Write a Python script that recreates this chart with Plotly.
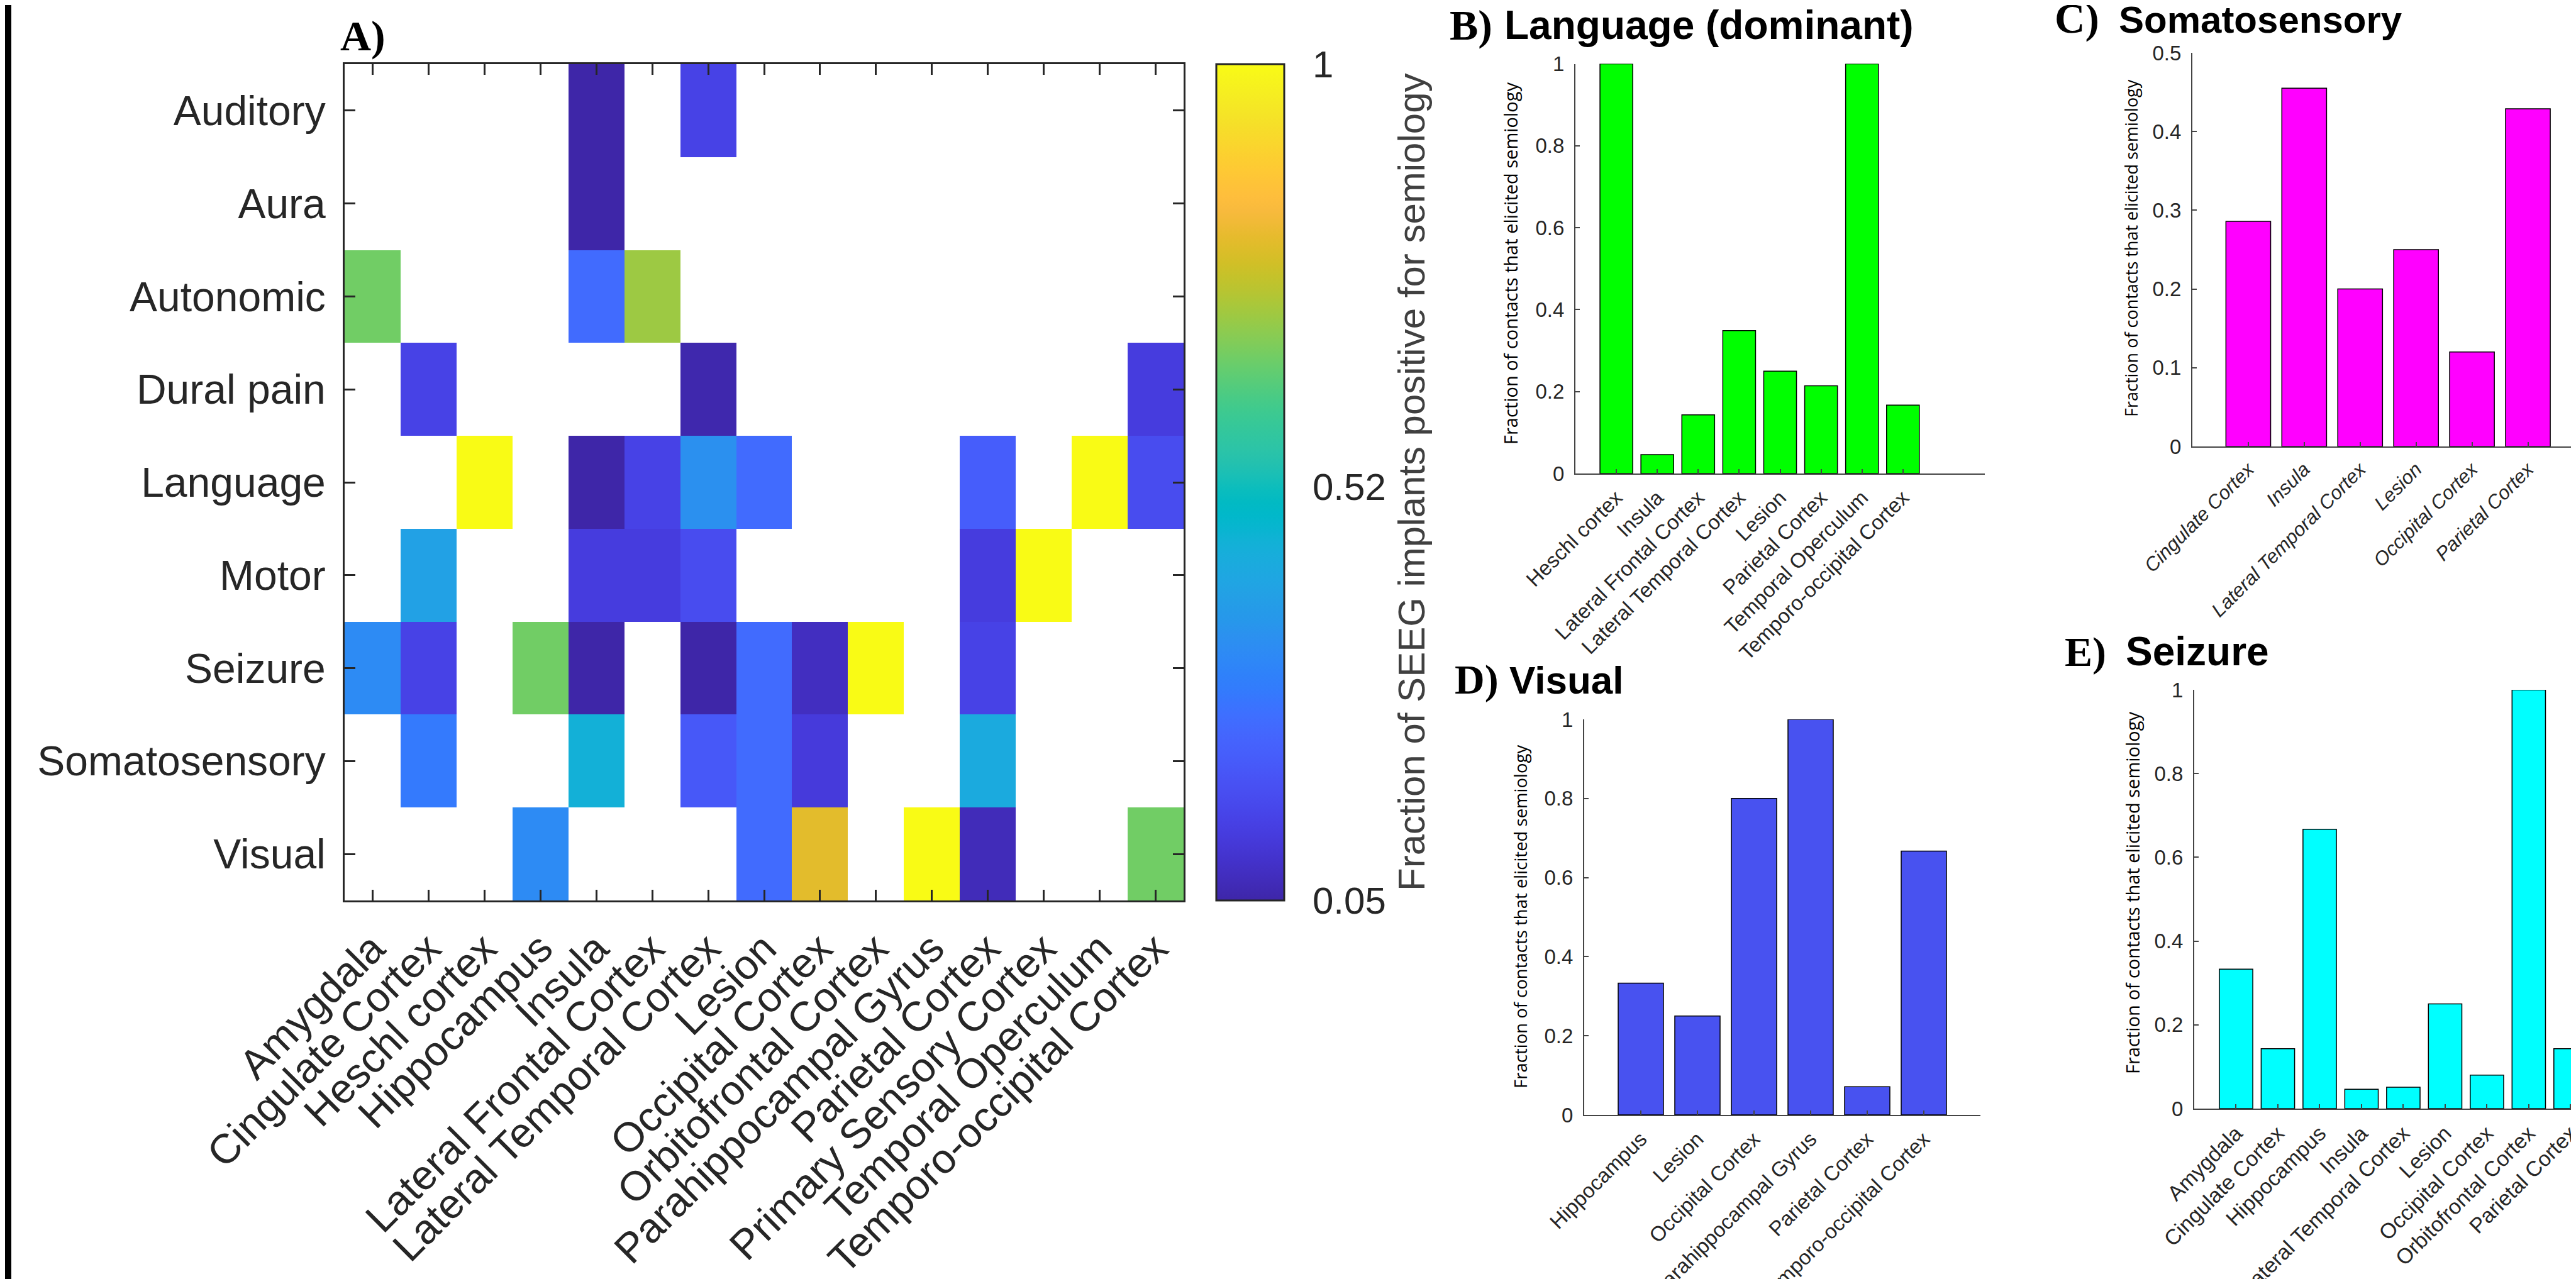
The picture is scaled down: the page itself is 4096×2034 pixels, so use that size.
import plotly.graph_objects as go

W, H = 4096, 2034

# ---------------- data ----------------
semiologies = ["Auditory", "Aura", "Autonomic", "Dural pain", "Language",
               "Motor", "Seizure", "Somatosensory", "Visual"]
regions = ["Amygdala", "Cingulate Cortex", "Heschl cortex", "Hippocampus", "Insula",
           "Lateral Frontal Cortex", "Lateral Temporal Cortex", "Lesion",
           "Occipital Cortex", "Orbitofrontal Cortex", "Parahippocampal Gyrus",
           "Parietal Cortex", "Primary Sensory Cortex", "Temporal Operculum",
           "Temporo-occipital Cortex"]
N = None
row_auditory      = [N, N, N, N, 0.045, N, 0.143, N, N, N, N, N, N, N, N]
row_aura          = [N, N, N, N, 0.045, N, N, N, N, N, N, N, N, N, N]
row_autonomic     = [0.667, N, N, N, 0.25, 0.714, N, N, N, N, N, N, N, N, N]
row_dural_pain    = [N, 0.143, N, N, N, N, 0.056, N, N, N, N, N, N, N, 0.125]
row_language      = [N, N, 1.0, N, 0.045, 0.143, 0.35, 0.25, N, N, N, 0.214, N, 1.0, 0.167]
row_motor         = [N, 0.4, N, N, 0.125, 0.125, 0.167, N, N, N, N, 0.125, 1.0, N, N]
row_seizure       = [0.333, 0.143, N, 0.667, 0.045, N, 0.05, 0.25, 0.08, 1.0, N, 0.143, N, N, N]
row_somatosensory = [N, 0.286, N, N, 0.455, N, 0.2, 0.25, 0.12, N, N, 0.429, N, N, N]
row_visual        = [N, N, N, 0.333, N, N, N, 0.25, 0.8, N, 1.0, 0.071, N, N, 0.667]
heat_z = [row_auditory, row_aura, row_autonomic, row_dural_pain, row_language,
          row_motor, row_seizure, row_somatosensory, row_visual]
cbar_ticks = [0.05, 0.52, 1.0]
cbar_ticktext = ["0.05", "0.52", "1"]

lang_regions = ["Heschl cortex", "Insula", "Lateral Frontal Cortex", "Lateral Temporal Cortex",
                "Lesion", "Parietal Cortex", "Temporal Operculum", "Temporo-occipital Cortex"]
lang_values = [1.0, 0.046, 0.143, 0.349, 0.25, 0.214, 1.0, 0.167]

soma_regions = ["Cingulate Cortex", "Insula", "Lateral Temporal Cortex", "Lesion",
                "Occipital Cortex", "Parietal Cortex"]
soma_values = [0.286, 0.455, 0.2, 0.25, 0.12, 0.429]

vis_regions = ["Hippocampus", "Lesion", "Occipital Cortex", "Parahippocampal Gyrus",
               "Parietal Cortex", "Temporo-occipital Cortex"]
vis_values = [0.333, 0.25, 0.8, 1.0, 0.071, 0.667]

seiz_regions = ["Amygdala", "Cingulate Cortex", "Hippocampus", "Insula",
                "Lateral Temporal Cortex", "Lesion", "Occipital Cortex",
                "Orbitofrontal Cortex", "Parietal Cortex"]
seiz_values = [0.333, 0.143, 0.667, 0.046, 0.051, 0.25, 0.08, 1.0, 0.143]

ticks_01 = [0, 0.2, 0.4, 0.6, 0.8, 1.0]
ticks_01_text = ["0", "0.2", "0.4", "0.6", "0.8", "1"]
ticks_05 = [0, 0.1, 0.2, 0.3, 0.4, 0.5]
ticks_05_text = ["0", "0.1", "0.2", "0.3", "0.4", "0.5"]

# ---------------- parula colormap ----------------
parula = [
    (0.2422, 0.1504, 0.6603), (0.2504, 0.1650, 0.7076), (0.2578, 0.1818, 0.7511),
    (0.2647, 0.1978, 0.7952), (0.2706, 0.2147, 0.8364), (0.2751, 0.2342, 0.8710),
    (0.2783, 0.2559, 0.8991), (0.2803, 0.2782, 0.9221), (0.2813, 0.3006, 0.9414),
    (0.2810, 0.3228, 0.9579), (0.2795, 0.3447, 0.9717), (0.2760, 0.3667, 0.9829),
    (0.2699, 0.3892, 0.9906), (0.2602, 0.4123, 0.9952), (0.2440, 0.4358, 0.9988),
    (0.2206, 0.4603, 0.9973), (0.1963, 0.4847, 0.9892), (0.1834, 0.5074, 0.9798),
    (0.1786, 0.5289, 0.9682), (0.1764, 0.5499, 0.9520), (0.1687, 0.5703, 0.9359),
    (0.1540, 0.5902, 0.9218), (0.1460, 0.6091, 0.9079), (0.1380, 0.6276, 0.8973),
    (0.1248, 0.6459, 0.8883), (0.1113, 0.6635, 0.8763), (0.0952, 0.6798, 0.8598),
    (0.0689, 0.6948, 0.8394), (0.0297, 0.7082, 0.8163), (0.0036, 0.7203, 0.7917),
    (0.0067, 0.7312, 0.7660), (0.0433, 0.7411, 0.7394), (0.0964, 0.7500, 0.7120),
    (0.1408, 0.7584, 0.6842), (0.1717, 0.7670, 0.6554), (0.1938, 0.7758, 0.6251),
    (0.2161, 0.7843, 0.5923), (0.2470, 0.7918, 0.5567), (0.2906, 0.7973, 0.5188),
    (0.3406, 0.8008, 0.4789), (0.3909, 0.8029, 0.4354), (0.4456, 0.8024, 0.3909),
    (0.5044, 0.7993, 0.3480), (0.5616, 0.7942, 0.3045), (0.6174, 0.7876, 0.2612),
    (0.6720, 0.7793, 0.2227), (0.7242, 0.7698, 0.1910), (0.7738, 0.7598, 0.1646),
    (0.8203, 0.7498, 0.1535), (0.8634, 0.7406, 0.1596), (0.9035, 0.7330, 0.1774),
    (0.9393, 0.7288, 0.2100), (0.9728, 0.7298, 0.2394), (0.9956, 0.7434, 0.2371),
    (0.9970, 0.7659, 0.2199), (0.9952, 0.7893, 0.2028), (0.9892, 0.8136, 0.1885),
    (0.9786, 0.8386, 0.1766), (0.9676, 0.8639, 0.1643), (0.9610, 0.8890, 0.1537),
    (0.9597, 0.9135, 0.1423), (0.9628, 0.9373, 0.1265), (0.9691, 0.9606, 0.1064),
    (0.9769, 0.9839, 0.0805)]
colorscale = [[i / (len(parula) - 1),
               "rgb(%d,%d,%d)" % tuple(round(c * 255) for c in rgb)]
              for i, rgb in enumerate(parula)]

# ---------------- layout helpers (output pixels) ----------------
def fx(p):
    return p / W

def fy(p):
    return 1 - p / H

TXT = "#262626"
SANS = "Liberation Sans, Arial, sans-serif"
SERIF = "Liberation Serif, Times New Roman, serif"
YLAB = "Open Sans, sans-serif"

# panel boxes: (left, right, top, bottom) in px
HEAT = (540, 1874, 94, 1424)
PB = (2497, 3148, 93.5, 745)
PC = (3478, 4096, 76, 702)
PD = (2511, 3141, 1136, 1765)
PE = (3481, 4096, 1089, 1755)

fig = go.Figure()

fig.add_trace(go.Heatmap(
    z=heat_z, x=regions, y=semiologies, xaxis="x", yaxis="y",
    colorscale=colorscale, zmin=0.05, zmax=1.0, hoverongaps=False,
    colorbar=dict(
        x=fx(1926), xanchor="left", xpad=0, ypad=0,
        thickness=108, thicknessmode="pixels",
        len=(HEAT[3] - HEAT[2]) / H, lenmode="fraction",
        y=fy(HEAT[3]), yanchor="bottom",
        tickvals=cbar_ticks, ticktext=cbar_ticktext,
        ticks="outside", ticklen=32, tickcolor="rgba(0,0,0,0)",
        tickfont=dict(family=SANS, size=60, color=TXT),
        outlinewidth=3, outlinecolor=TXT,
    ),
))

def add_bars(names, values, color, xa, ya):
    fig.add_trace(go.Bar(
        x=names, y=values, xaxis=xa, yaxis=ya, width=0.8,
        marker=dict(color=color, line=dict(color="#000000", width=1.5)),
        showlegend=False,
    ))

add_bars(lang_regions, lang_values, "#00ff00", "x2", "y2")
add_bars(soma_regions, soma_values, "#ff00ff", "x3", "y3")
add_bars(vis_regions, vis_values, "#4852f0", "x4", "y4")
add_bars(seiz_regions, seiz_values, "#00ffff", "x5", "y5")

def bar_axes(box, xr, yr, tv, tt, italic=False, xsize=33):
    l, r, t, b = box
    xa = dict(domain=[fx(l), fx(r)], range=xr, type="category", automargin=False,
              showline=True, linecolor="#444444", linewidth=2,
              ticks="inside", ticklen=7, tickwidth=1.5, tickcolor="#444444",
              tickangle=-45, showgrid=False, zeroline=False, fixedrange=True,
              tickfont=dict(family=SANS, size=xsize, color=TXT,
                            style="italic" if italic else "normal"),
              ticklabelstandoff=4)
    ya = dict(domain=[fy(b), fy(t)], range=yr, automargin=False,
              showline=True, linecolor="#444444", linewidth=2,
              ticks="inside", ticklen=7, tickwidth=1.5, tickcolor="#444444",
              tickvals=tv, ticktext=tt, showgrid=False, zeroline=False,
              tickfont=dict(family=SANS, size=33, color=TXT),
              ticklabelstandoff=9)
    return xa, ya

xa2, ya2 = bar_axes(PB, [-1, 9], [0, 1], ticks_01, ticks_01_text)
xa3, ya3 = bar_axes(PC, [-1, 5.95], [0, 0.5], ticks_05, ticks_05_text, italic=True, xsize=31)
xa4, ya4 = bar_axes(PD, [-1, 6], [0, 1], ticks_01, ticks_01_text)
xa5, ya5 = bar_axes(PE, [-1, 8.25], [0, 1], ticks_01, ticks_01_text, xsize=34)
xa2["anchor"], ya2["anchor"] = "y2", "x2"
xa3["anchor"], ya3["anchor"] = "y3", "x3"
xa4["anchor"], ya4["anchor"] = "y4", "x4"
xa5["anchor"], ya5["anchor"] = "y5", "x5"

heat_axis_common = dict(showline=True, linecolor=TXT, linewidth=3, mirror="allticks",
                        ticks="inside", ticklen=17, tickwidth=2.5, tickcolor=TXT,
                        showgrid=False, zeroline=False, automargin=False,
                        tickfont=dict(family=SANS, size=66, color=TXT))

fig.update_layout(
    width=W, height=H,
    margin=dict(l=0, r=0, t=0, b=0, pad=0, autoexpand=False),
    paper_bgcolor="white", plot_bgcolor="white",
    showlegend=False,
    xaxis=dict(domain=[fx(HEAT[0]), fx(HEAT[1])], anchor="y", tickangle=-45,
               categoryorder="array", categoryarray=regions,
               ticklabelstandoff=8, **heat_axis_common),
    yaxis=dict(domain=[fy(HEAT[3]), fy(HEAT[2])], anchor="x", autorange="reversed",
               categoryorder="array", categoryarray=semiologies,
               ticklabelstandoff=14, **heat_axis_common),
    xaxis2=xa2, yaxis2=ya2, xaxis3=xa3, yaxis3=ya3,
    xaxis4=xa4, yaxis4=ya4, xaxis5=xa5, yaxis5=ya5,
)

ann = []

def title(x_letter, x_text, baseline, letter, text, lsize, tsize):
    ann.append(dict(text="<b>%s</b>" % letter, x=fx(x_letter), y=fy(baseline + 0.22 * lsize),
                    xref="paper", yref="paper", xanchor="left", yanchor="bottom",
                    showarrow=False, font=dict(family=SERIF, size=lsize, color="#000000")))
    if text:
        ann.append(dict(text="<b>%s</b>" % text, x=fx(x_text), y=fy(baseline + 0.21 * tsize),
                        xref="paper", yref="paper", xanchor="left", yanchor="bottom",
                        showarrow=False, font=dict(family=SANS, size=tsize, color="#000000")))

title(531, None, 74, "A)", None, 68, 0)
title(2295, 2382, 57, "B)", "Language (dominant)", 68, 64)
title(3257, 3359, 46, "C)", "Somatosensory", 67, 60)
title(2303, 2390, 1097, "D)", "Visual", 66, 62)
title(3273, 3370, 1053, "E)", "Seizure", 66, 64)

def ylabel(xc, yc, size, text="Fraction of contacts that elicited semiology", family=YLAB,
           color="#000000"):
    ann.append(dict(text=text, x=fx(xc), y=fy(yc), xref="paper", yref="paper",
                    xanchor="center", yanchor="middle", textangle=-90, showarrow=False,
                    font=dict(family=family, size=size, color=color)))

ylabel(2393, 411, 29)
ylabel(3381, 387, 27)
ylabel(2409, 1450, 27.5)
ylabel(3382, 1412, 29)
ylabel(2236, 759, 60, text="Fraction of SEEG implants positive for semiology",
       family=SANS, color="#404040")

fig.update_layout(annotations=ann)

# left figure border
fig.add_shape(type="rect", xref="paper", yref="paper", x0=0, x1=10 / W, y0=0, y1=1,
              fillcolor="#000000", line=dict(width=0))

fig.write_html("out.html")
